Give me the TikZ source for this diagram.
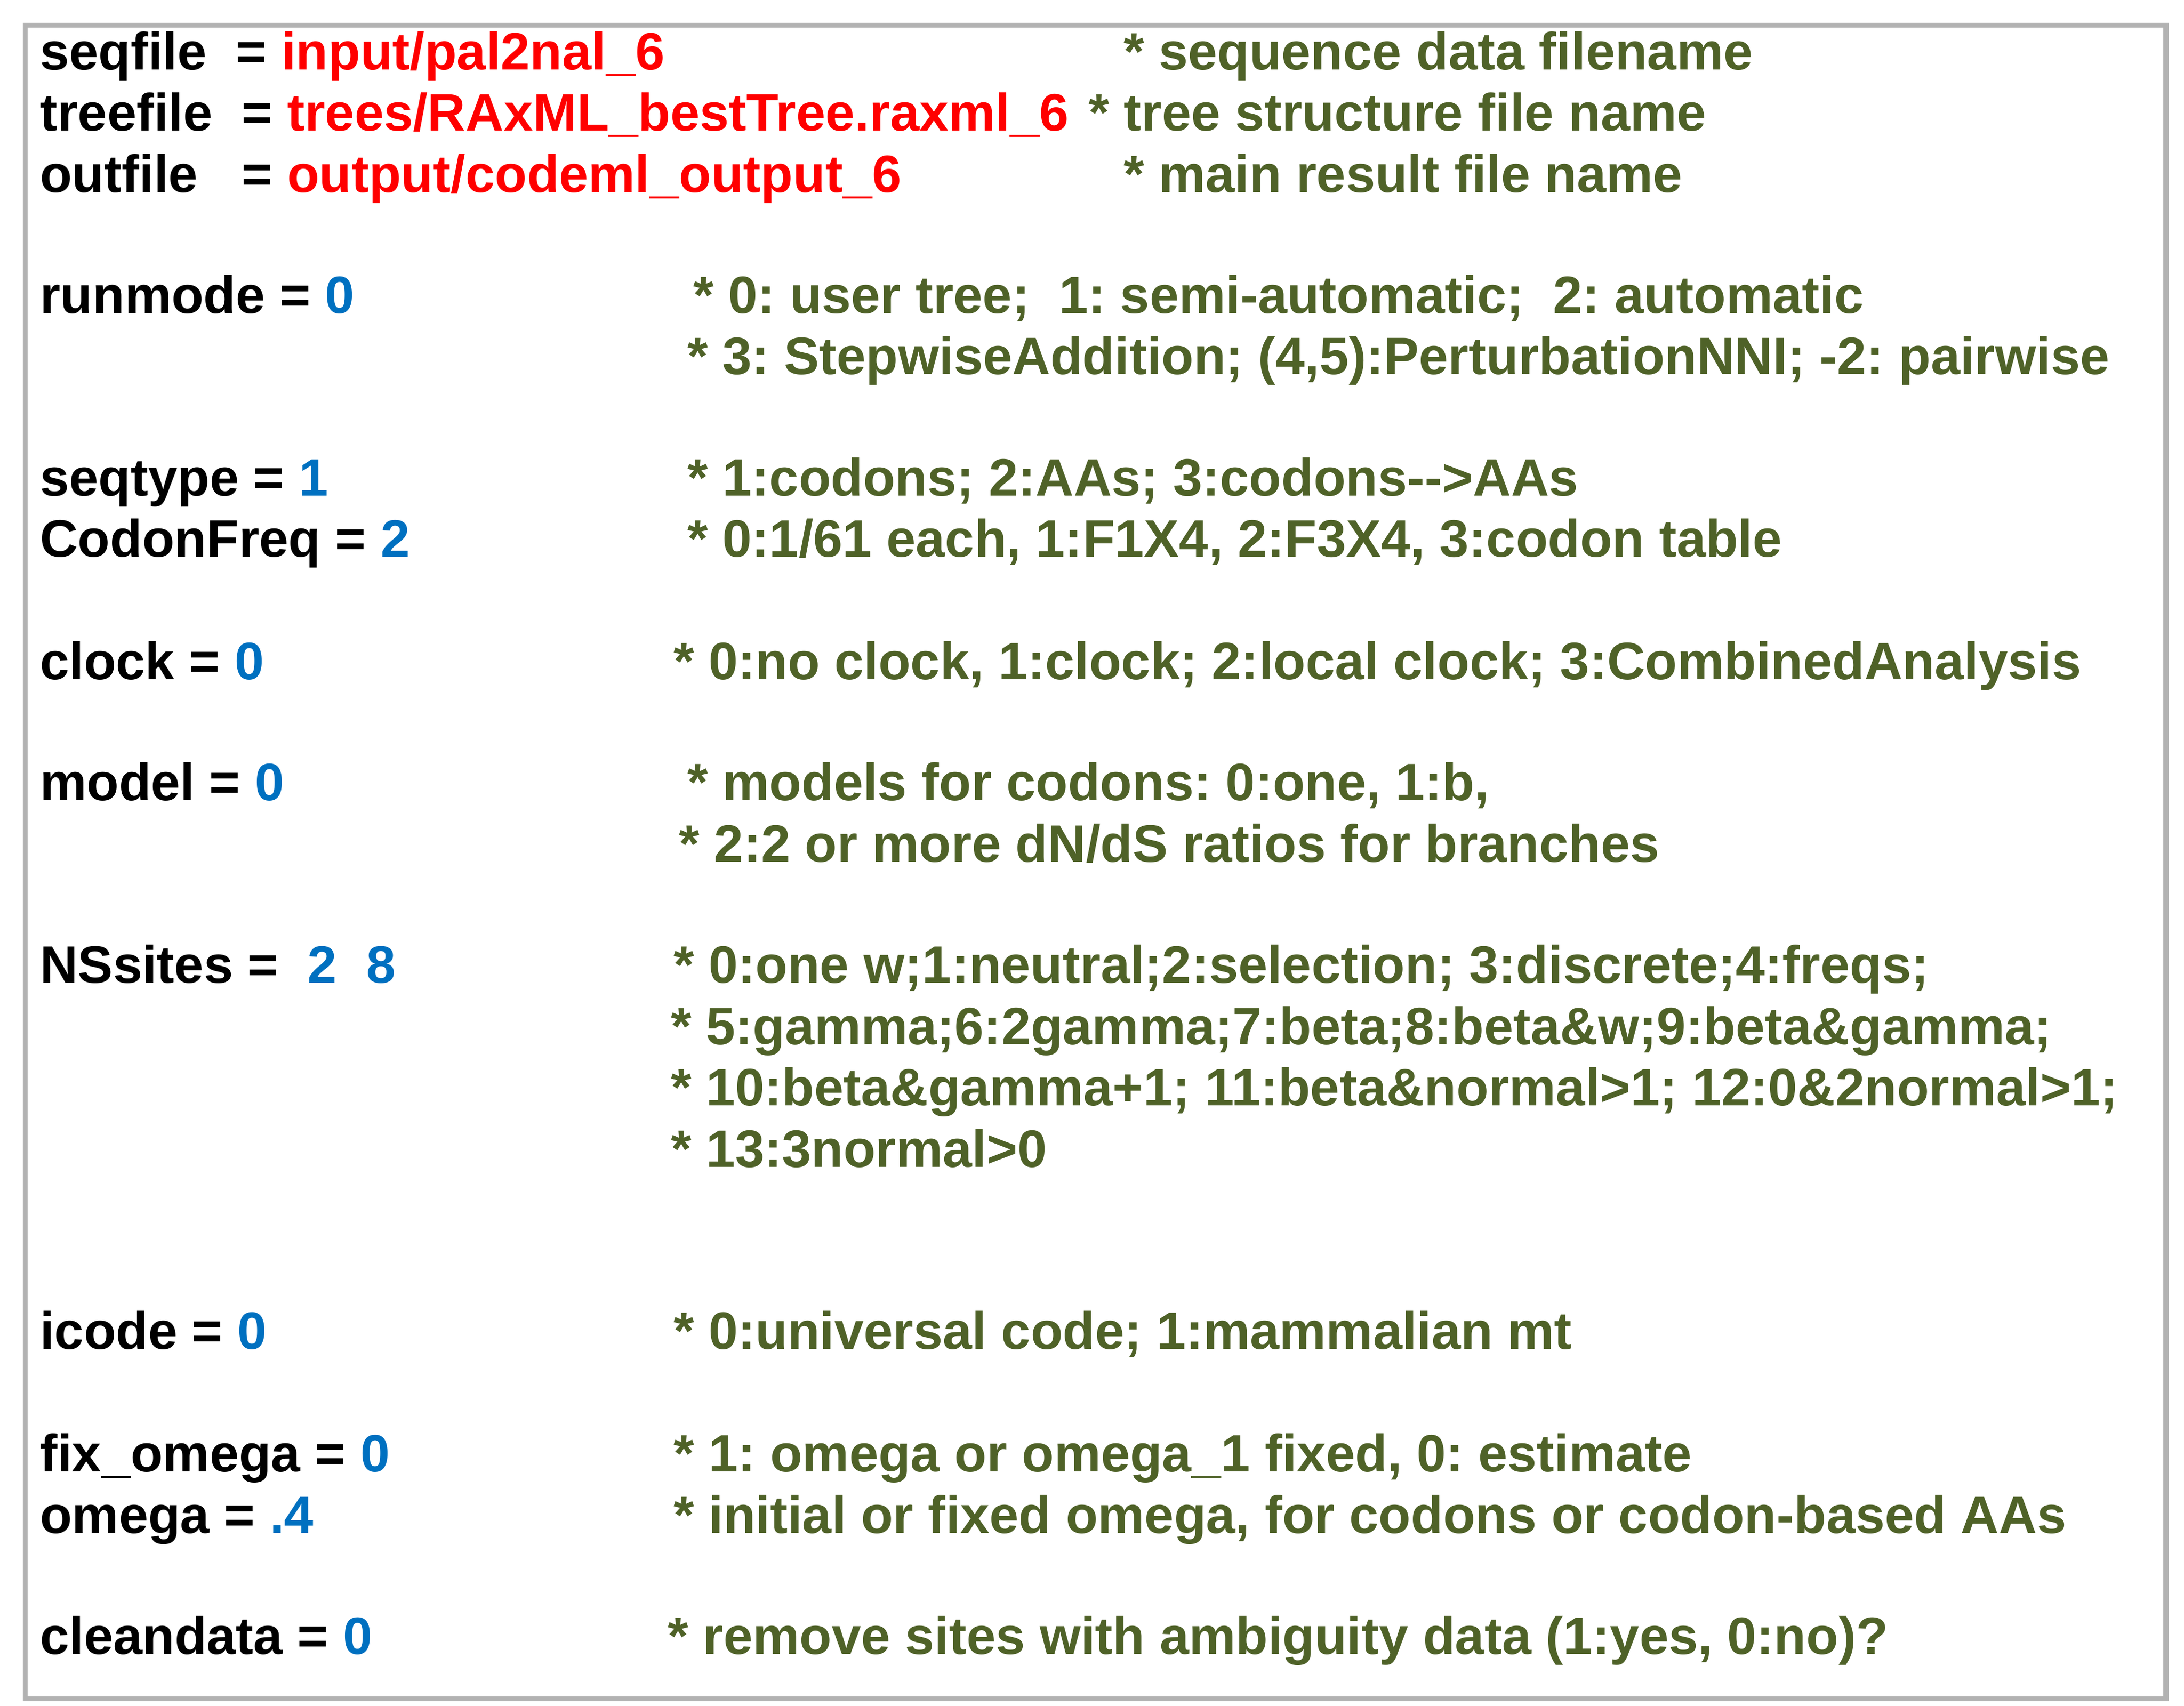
\documentclass[tikz,border=0pt]{standalone}
\usepackage{fontspec}
\setmainfont{Liberation Sans}
\usepackage{xcolor}
\definecolor{valred}{HTML}{FF0000}
\definecolor{valblue}{HTML}{0070C0}
\definecolor{cmtgreen}{HTML}{4F6228}
\tikzset{
  key/.style={anchor=base west, inner sep=0pt, font=\fontsize{10.75}{13}\selectfont\bfseries\frenchspacing},
  cmt/.style={key, text=cmtgreen}
}
\newcommand{\rv}[1]{\textcolor{valred}{#1}}
\newcommand{\bv}[1]{\textcolor{valblue}{#1}}
\begin{document}
\begin{tikzpicture}[x=0.01cm, y=-0.01cm]
	\useasboundingbox (0,0) rectangle (1568,1225);
	\draw[gray!60, line width=1pt] (18,18) rectangle (1555,1220);
	%
	\node[key] (seq) at (28,50) {seqfile \ = \rv{input/pal2nal\_6}};
	\node[key] (tree) at (28,94) {treefile \ = \rv{trees/RAxML\_bestTree.raxml\_6}};
	\node[key] (out) at (28,138) {outfile \ \ = \rv{output/codeml\_output\_6}};
	\node[cmt] (cseq) at (806,50) {* sequence data filename};
	\node[cmt] (ctree) at (781,94) {* tree structure file name};
	\node[cmt] (cout) at (806,138) {* main result file name};
	%
	\node[key] (run) at (28,225) {runmode = \bv{0}};
	\node[cmt] (crun1) at (497,225) {* 0: user tree; \ 1: semi-automatic; \ 2: automatic};
	\node[cmt] (crun2) at (493,269) {* 3: StepwiseAddition; (4,5):PerturbationNNI; -2: pairwise};
	%
	\node[key] (stype) at (28,356) {seqtype = \bv{1}};
	\node[key] (cfreq) at (28,400) {CodonFreq = \bv{2}};
	\node[cmt] (cstype) at (493,356) {* 1:codons; 2:AAs; 3:codons-{}->AAs};
	\node[cmt] (ccfreq) at (493,400) {* 0:1/61 each, 1:F1X4, 2:F3X4, 3:codon table};
	%
	\node[key] (clk) at (28,488) {clock = \bv{0}};
	\node[cmt] (cclk) at (483,488) {* 0:no clock, 1:clock; 2:local clock; 3:CombinedAnalysis};
	%
	\node[key] (mdl) at (28,575) {model = \bv{0}};
	\node[cmt] (cmdl1) at (493,575) {* models for codons: 0:one, 1:b,};
	\node[cmt] (cmdl2) at (487,619) {* 2:2 or more dN/dS ratios for branches};
	%
	\node[key] (nss) at (28,706) {NSsites = \ \bv{2 \ 8}};
	\node[cmt] (cnss1) at (483,706) {* 0:one w;1:neutral;2:selection; 3:discrete;4:freqs;};
	\node[cmt] (cnss2) at (481,750) {* 5:gamma;6:2gamma;7:beta;8:beta\&w;9:beta\&gamma;};
	\node[cmt] (cnss3) at (481,794) {* 10:beta\&gamma+1; 11:beta\&normal>1; 12:0\&2normal>1;};
	\node[cmt] (cnss4) at (481,838) {* 13:3normal>0};
	%
	\node[key] (icd) at (28,969) {icode = \bv{0}};
	\node[cmt] (cicd) at (483,969) {* 0:universal code; 1:mammalian mt};
	%
	\node[key] (fixo) at (28,1057) {fix\_omega = \bv{0}};
	\node[key] (omg) at (28,1101) {omega = \bv{.4}};
	\node[cmt] (cfixo) at (483,1057) {* 1: omega or omega\_1 fixed, 0: estimate};
	\node[cmt] (comg) at (483,1101) {* initial or fixed omega, for codons or codon-based AAs};
	%
	\node[key] (cln) at (28,1188) {cleandata = \bv{0}};
	\node[cmt] (ccln) at (479,1188) {* remove sites with ambiguity data (1:yes, 0:no)?};
\end{tikzpicture}
\end{document}
